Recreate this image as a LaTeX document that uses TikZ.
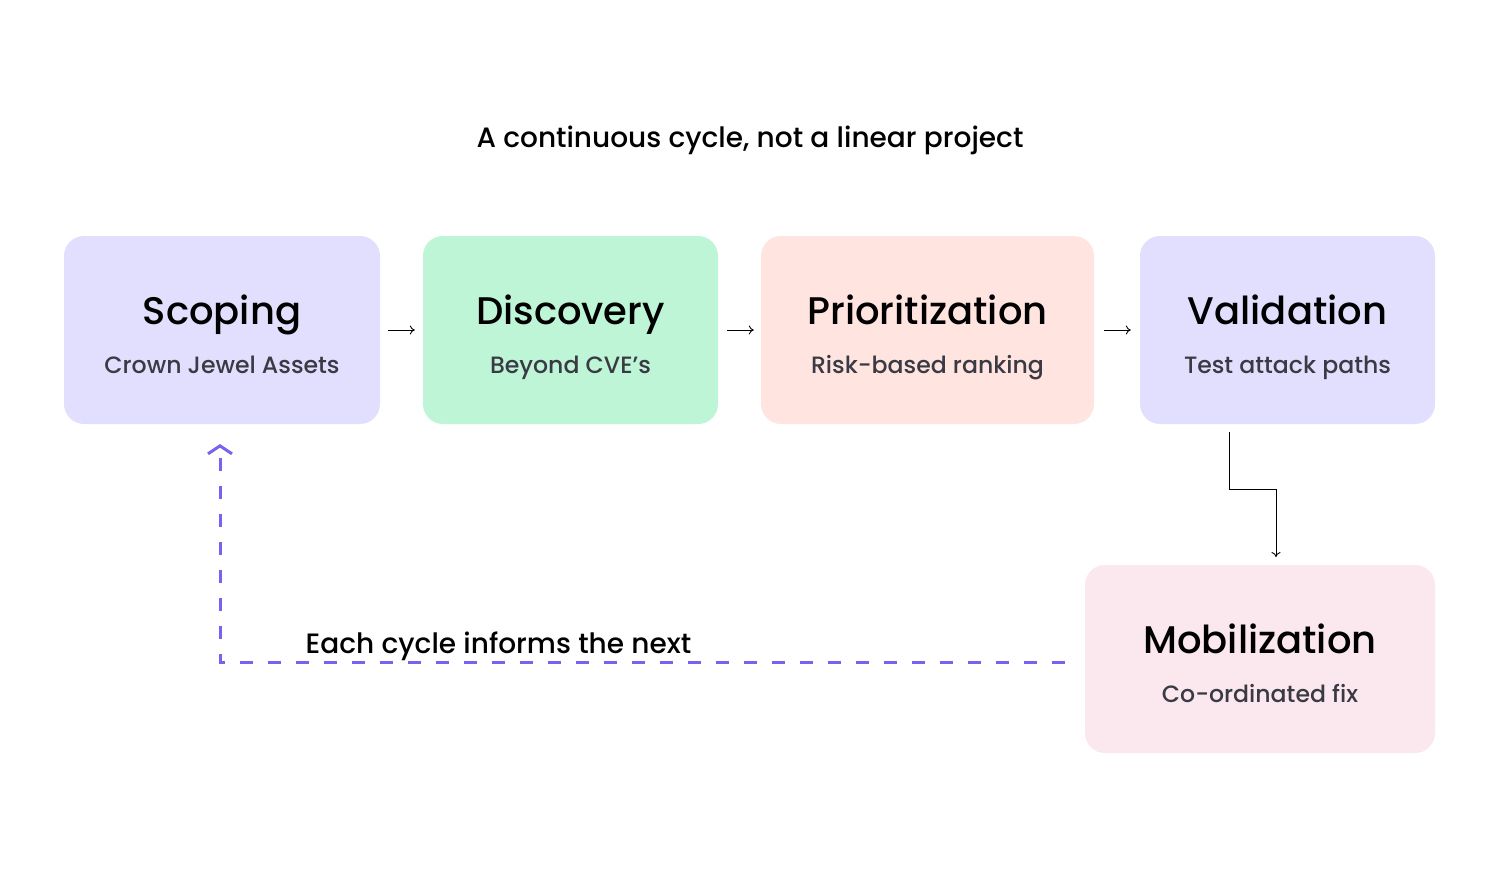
\documentclass[tikz,border=0pt]{standalone}
\usepackage{fontspec}
\setmainfont{Poppins}[UprightFont={* Medium}]
\usetikzlibrary{arrows.meta,calc}
\definecolor{lav}{HTML}{E2DEFD}
\definecolor{mint}{HTML}{BEF5D6}
\definecolor{peach}{HTML}{FFE4E0}
\definecolor{rose}{HTML}{FBE7EE}
\definecolor{violet}{HTML}{7B61F0}
\definecolor{subgray}{HTML}{3A3A44}
\tikzset{
  stagebox/.style={draw=none, rounded corners=20pt, inner sep=0pt},
  stagetitle/.style={anchor=base, inner sep=0pt, font=\fontsize{38.5}{40}\selectfont, text=black},
  stagesub/.style={anchor=base, inner sep=0pt, font=\fontsize{23.6}{26}\selectfont, text=subgray},
  flow/.style={draw=black, line width=0.9pt, -{To[length=5pt,width=9pt]}},
  loopback/.style={draw=violet, line width=3pt, dash pattern=on 13pt off 15pt, -{Straight Barb[length=8pt,width=24pt,line width=3pt]}},
}
\begin{document}
\begin{tikzpicture}[x=1pt,y=-1pt]
\useasboundingbox (0,0) rectangle (1500,872);
\fill[white] (0,0) rectangle (1500,872);

\node[anchor=base, inner sep=0pt, font=\fontsize{28}{30}\selectfont] (head) at (750,148) {A continuous cycle, not a linear project};

\node[stagebox, fill=lav, minimum width=316pt, minimum height=188pt] (scope) at (222,330) {};
\node[stagebox, fill=mint, minimum width=295pt, minimum height=188pt] (disc) at (570.5,330) {};
\node[stagebox, fill=peach, minimum width=333pt, minimum height=188pt] (prio) at (927.5,330) {};
\node[stagebox, fill=lav, minimum width=295pt, minimum height=188pt] (valid) at (1287.5,330) {};
\node[stagebox, fill=rose, minimum width=350pt, minimum height=188pt] (mobil) at (1260,659) {};

\node[stagetitle] (scopeT) at ($(scope.center)+(0,-6)$) {Scoping};
\node[stagesub] (scopeS) at ($(scope.center)+(0,43)$) {Crown Jewel Assets};
\node[stagetitle] (discT) at ($(disc.center)+(0,-6)$) {Discovery};
\node[stagesub] (discS) at ($(disc.center)+(0,43)$) {Beyond CVE’s};
\node[stagetitle] (prioT) at ($(prio.center)+(0,-6)$) {Prioritization};
\node[stagesub] (prioS) at ($(prio.center)+(0,43)$) {Risk-based ranking};
\node[stagetitle] (validT) at ($(valid.center)+(0,-6)$) {Validation};
\node[stagesub] (validS) at ($(valid.center)+(0,43)$) {Test attack paths};
\node[stagetitle] (mobilT) at ($(mobil.center)+(0,-6)$) {Mobilization};
\node[stagesub] (mobilS) at ($(mobil.center)+(0,43)$) {Co-ordinated fix};

\draw[flow] ($(scope.east)+(8,0)$) -- ($(disc.west)+(-8,0)$);
\draw[flow] ($(disc.east)+(9,0)$) -- ($(prio.west)+(-7,0)$);
\draw[flow] ($(prio.east)+(10,0)$) -- ($(valid.west)+(-9,0)$);

\coordinate (vstart) at (1229,432);
\coordinate (vend) at (1276,557);
\draw[flow] (vstart) -- (1229,489) -- (1276,489) -- (vend);

\coordinate (dstart) at (1065,662);
\coordinate (dend) at (220,444);
\draw[loopback] (dstart) -- (220,662) -- (dend);

\node[anchor=base, inner sep=0pt, font=\fontsize{28}{30}\selectfont] (note) at (498.5,653) {Each cycle informs the next};
\end{tikzpicture}
\end{document}
